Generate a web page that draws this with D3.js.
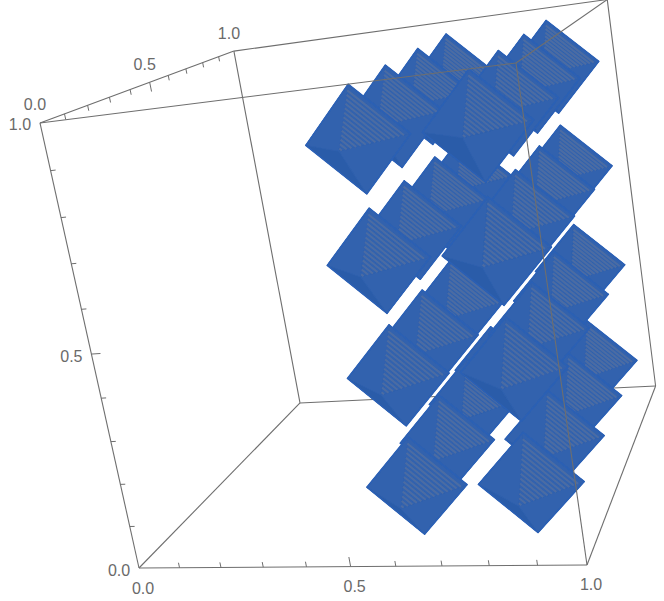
<!DOCTYPE html>
<html>
<head>
<meta charset="utf-8">
<script src="https://cdn.jsdelivr.net/npm/d3@7"></script>
<style>
  html, body { margin: 0; background: #fff; }
  text { font-family: "Liberation Sans", Arial, sans-serif; font-size: 16px; fill: #6a6a6a; }
</style>
</head>
<body>
<div id="chart"></div>
<script>
// Octahedra sit on a regular lattice inside the unit box
const xCenters = [0.6, 0.855];
const yCenters = [0.2, 0.45, 0.7, 0.95];
const zCenters = [0.09, 0.345, 0.6, 0.86];
const radius = 0.115;

const majorTicks = [0, 0.5, 1];
const stripeCount = 14;

const width = 664, height = 601;

// Camera for the box, numerators and denominator of the perspective divide
const camU = [386.6, 245, -102, 139],
      camV = [-62.1, -52.2, -454.2, 568],
      camW = [-0.1046, 0.28, -0.0744, 1];

const dot = (c, p) => c[0] * p[0] + c[1] * p[1] + c[2] * p[2] + c[3];
const depth = p => dot(camW, p);
const project = p => [dot(camU, p) / depth(p), dot(camV, p) / depth(p)];
const lerp = (a, b, t) => [a[0] + (b[0] - a[0]) * t, a[1] + (b[1] - a[1]) * t];

const svg = d3.select("#chart")
    .append("svg")
    .attr("width", width)
    .attr("height", height)
    .style("display", "block");

svg.append("defs").append("filter")
    .attr("id", "soft")
    .attr("x", "-5%").attr("y", "-5%").attr("width", "110%").attr("height", "110%")
    .append("feGaussianBlur")
    .attr("stdDeviation", 0.6);

const line = d3.line();
const edgeColor = "#6e6e6e";

function drawEdges(group, edges) {
    group.selectAll("path")
        .data(edges)
        .join("path")
        .attr("d", d => line(d.map(project)))
        .attr("fill", "none")
        .attr("stroke", edgeColor)
        .attr("stroke-width", 1.1);
}

// Box edges behind the solids
drawEdges(svg.append("g"), [
    [[0,0,0],[1,0,0]], [[0,0,0],[0,1,0]], [[0,1,0],[1,1,0]], [[1,0,0],[1,1,0]],
    [[0,0,0],[0,0,1]], [[0,1,0],[0,1,1]], [[1,1,0],[1,1,1]],
    [[0,0,1],[0,1,1]], [[0,1,1],[1,1,1]]
]);

// Ticks: the 0.1 steps of the linear scale, longer ones at the labels
const ticks = d3.scaleLinear().domain([0, 1]).ticks(10);
const isMajor = t => majorTicks.includes(t);
const axes = [
    {at: t => [t, 0, 0], tip: (t, l) => [t, 0, l]},
    {at: t => [0, 0, t], tip: (t, l) => [l, 0, t]},
    {at: t => [0, t, 1], tip: (t, l) => [0, t, 1 - l]}
];
axes.forEach(a => {
    svg.append("g").selectAll("path")
        .data(ticks.filter(t => t > 0 && t < 1))
        .join("path")
        .attr("d", t => line([project(a.at(t)), project(a.tip(t, isMajor(t) ? 0.022 : 0.012))]))
        .attr("fill", "none")
        .attr("stroke", edgeColor)
        .attr("stroke-width", 1);
});

// Tick labels, pushed off the axis in pixels
const fmt = d3.format(".1f");
const labelOffsets = [[4, 20], [-20, 2], [-5, -18]];
axes.forEach((a, i) => {
    svg.append("g").selectAll("text")
        .data(majorTicks)
        .join("text")
        .attr("x", t => project(a.at(t))[0] + labelOffsets[i][0])
        .attr("y", t => project(a.at(t))[1] + labelOffsets[i][1])
        .attr("text-anchor", "middle")
        .attr("dominant-baseline", "central")
        .text(fmt);
});

// Solids, far ones first
const centers = d3.cross(d3.cross(xCenters, yCenters), zCenters, (a, z) => [a[0], a[1], z])
    .sort((a, b) => d3.descending(depth(a), depth(b)));

const faceColor = (sx, sz) => (sx < 0 && sz < 0) ? "#2c5ca9" : "#3062ae";

const solids = svg.append("g").attr("filter", "url(#soft)");

centers.forEach(c => {
    const g = solids.append("g");
    const faces = d3.cross(d3.cross([-1, 1], [-1, 1]), [-1, 1], (a, s) => ({sx: a[0], sy: a[1], sz: s}))
        .map(f => ({
            ...f,
            vx: [c[0] + f.sx * radius, c[1], c[2]],
            vy: [c[0], c[1] + f.sy * radius, c[2]],
            vz: [c[0], c[1], c[2] + f.sz * radius]
        }))
        .sort((a, b) => d3.descending(a.sy, b.sy));

    g.selectAll("path.face")
        .data(faces)
        .join("path")
        .attr("class", "face")
        .attr("d", f => line([f.vx, f.vy, f.vz].map(project)) + "Z")
        .attr("fill", f => faceColor(f.sx, f.sz))
        .attr("stroke", f => faceColor(f.sx, f.sz))
        .attr("stroke-width", 0.6)
        .attr("stroke-linejoin", "round");

    // The lit face carries the gray stripes
    const lit = faces.find(f => f.sx > 0 && f.sy < 0 && f.sz > 0);
    const apex = project(lit.vy), right = project(lit.vx), top = project(lit.vz);
    g.selectAll("line")
        .data(d3.range(stripeCount).map(i => (i + 0.6) / (stripeCount + 1)))
        .join("line")
        .attr("x1", t => lerp(apex, top, t)[0])
        .attr("y1", t => lerp(apex, top, t)[1])
        .attr("x2", t => lerp(apex, right, t)[0])
        .attr("y2", t => lerp(apex, right, t)[1])
        .attr("stroke", "#6f7a96")
        .attr("stroke-width", 2)
        .attr("stroke-opacity", 0.45);

    // Saturated rim round the silhouette
    const rim = [[c[0] - radius, c[1], c[2]], [c[0], c[1], c[2] + radius],
                 [c[0] + radius, c[1], c[2]], [c[0], c[1], c[2] - radius]];
    g.append("path")
        .attr("d", line(rim.map(project)) + "Z")
        .attr("fill", "none")
        .attr("stroke", "#2c60b5")
        .attr("stroke-width", 1.4)
        .attr("stroke-linejoin", "round");
});

// Box edges in front of the solids
drawEdges(svg.append("g"), [
    [[0,0,1],[1,0,1]], [[1,0,0],[1,0,1]], [[1,0,1],[1,1,1]]
]);
</script>
</body>
</html>
